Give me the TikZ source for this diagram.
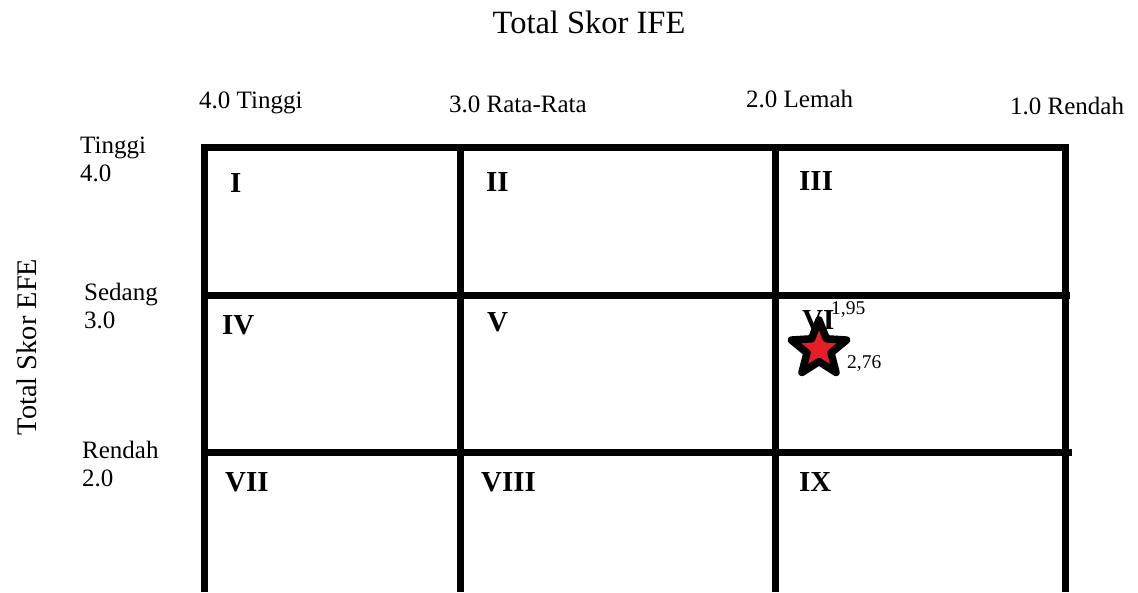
\documentclass[tikz,border=0pt]{standalone}
\usepackage{fontspec}
\setmainfont{Liberation Serif}
\usetikzlibrary{shapes.geometric}
\definecolor{starred}{RGB}{230,30,40}
\begin{document}
\begin{tikzpicture}[x=1pt,y=-1pt,
  grid/.style={line width=7pt,line cap=butt},
  lbl/.style={inner sep=0pt,anchor=west,font=\fontsize{25}{28}\selectfont},
  num/.style={inner sep=0pt,anchor=west,font=\fontsize{29}{30}\selectfont\bfseries},
  small/.style={inner sep=0pt,anchor=west,font=\fontsize{19.5}{20}\selectfont}]
\useasboundingbox (0,0) rectangle (1138,592);
% titles
\node[inner sep=0pt,font=\fontsize{32.5}{34}\selectfont] (ife) at (589,22) {Total Skor IFE};
\node[inner sep=0pt,rotate=90,font=\fontsize{28.4}{30}\selectfont] (efe) at (27,347) {Total Skor EFE};
% top labels
\node[lbl] (t4) at (199,103) {4.0 Tinggi};
\node[lbl] (t3) at (449,104) {3.0 Rata-Rata};
\node[lbl] (t2) at (746,99) {2.0 Lemah};
\node[lbl] (t1) at (1010,106) {1.0 Rendah};
% side labels
\node[lbl,align=left] (s4) at (80,159) {Tinggi\\4.0};
\node[lbl,align=left] (s3) at (84,306) {Sedang\\3.0};
\node[lbl,align=left] (s2) at (82,464) {Rendah\\2.0};
% grid
\draw[grid] (204,592) -- (204,147) -- (1065,147) -- (1065,592);
\draw[grid] (460,147) -- (460,592);
\draw[grid] (775,147) -- (775,592);
\draw[grid] (204,295) -- (1070,295);
\draw[grid] (204,452) -- (1072,452);
% numerals
\node[num] (n1) at (230,183) {I};
\node[num] (n2) at (486,182) {II};
\node[num] (n3) at (799,181) {III};
\node[num] (n4) at (222,325) {IV};
\node[num] (n5) at (487,322) {V};
\node[num] (n6) at (802,320) {VI};
\node[num] (n7) at (225,482) {VII};
\node[num] (n8) at (481,482) {VIII};
\node[num] (n9) at (799,482) {IX};
% star
\node[star,star points=5,star point ratio=2.3,minimum size=58pt,inner sep=0pt,
  fill=starred,draw=black,line width=7.5pt,line join=round] (st) at (819,349) {};
\node[small] (v1) at (831,310) {1,95};
\node[small] (v2) at (847,364) {2,76};
\end{tikzpicture}
\end{document}
